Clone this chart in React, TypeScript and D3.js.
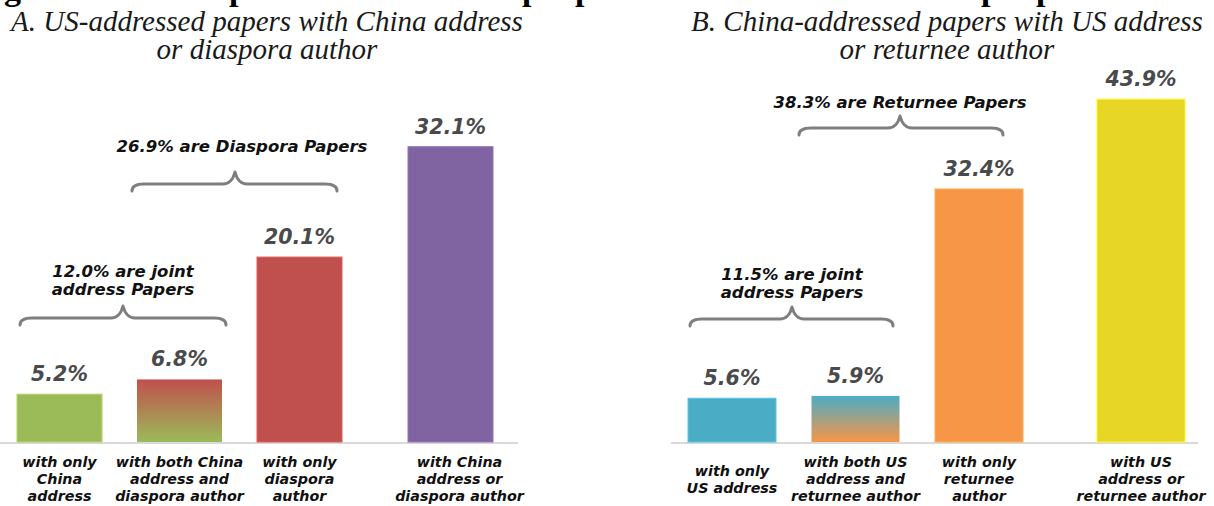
import React from "react";
import * as d3 from "d3";

// ---------- data ----------
const categoriesA = [
  ["with only", "China", "address"],
  ["with both China", "address and", "diaspora author"],
  ["with only", "diaspora", "author"],
  ["with China", "address or", "diaspora author"],
];
const valuesA = [5.2, 6.8, 20.1, 32.1];
const titleA = ["A. US-addressed papers with China address", "or diaspora author"];
const notesA = [
  { lines: ["12.0% are joint", "address Papers"], from: 0, to: 1 },
  { lines: ["26.9% are Diaspora Papers"], from: 1, to: 2 },
];

const categoriesB = [
  ["with only", "US address"],
  ["with both US", "address and", "returnee author"],
  ["with only", "returnee", "author"],
  ["with US", "address or", "returnee author"],
];
const valuesB = [5.6, 5.9, 32.4, 43.9];
const titleB = ["B. China-addressed papers with US address", "or returnee author"];
const notesB = [
  { lines: ["11.5% are joint", "address Papers"], from: 0, to: 1 },
  { lines: ["38.3% are Returnee Papers"], from: 1, to: 2 },
];

// ---------- layout / style ----------
const W = 1214;
const H = 506;
const baseline = 442;
const sans = "'DejaVu Sans', Verdana, sans-serif";
const serif = "'Liberation Serif', 'Times New Roman', serif";

const panels = [
  {
    id: "A",
    cats: categoriesA,
    vals: valuesA,
    title: titleA,
    notes: notesA,
    titleX: 267,
    range: [17, 462],
    step: 120,
    barW: 85,
    lastShift: 31,
    lastLabelDx: 9,
    yTop: 35,
    yTopPx: 442 - 35 * 9.2,
    axis: [0, 518],
    colors: ["#9BBB59", "gradA", "#C0504D", "#8064A2"],
    grad: ["#C0504D", "#9BBB59"],
    noteLayout: [
      { braceY: 318, x0: 20, x1: 226, tipX: 123, textX: 123, textY: 277 },
      { braceY: 184, x0: 132, x1: 337, tipX: 235, textX: 242, textY: 152 },
    ],
  },
  {
    id: "B",
    cats: categoriesB,
    vals: valuesB,
    title: titleB,
    notes: notesB,
    titleX: 947,
    range: [688, 1146.5],
    step: 123.5,
    barW: 88,
    lastShift: 38.5,
    lastLabelDx: 0,
    yTop: 50,
    yTopPx: 442 - 50 * 7.81,
    axis: [671, 1198],
    colors: ["#4BACC6", "gradB", "#F79646", "#E7D626"],
    grad: ["#4BACC6", "#F79646"],
    noteLayout: [
      { braceY: 319, x0: 690, x1: 893, tipX: 792, textX: 792, textY: 280 },
      { braceY: 128, x0: 799, x1: 1003, tipX: 900, textX: 900, textY: 108 },
    ],
  },
];

function bracePath(x0: number, x1: number, y: number, tip: number) {
  const p = d3.path();
  p.moveTo(x0, y + 7);
  p.quadraticCurveTo(x0, y, x0 + 12, y);
  p.lineTo(tip - 12, y);
  p.quadraticCurveTo(tip - 3, y, tip, y - 12);
  p.quadraticCurveTo(tip + 3, y, tip + 12, y);
  p.lineTo(x1 - 12, y);
  p.quadraticCurveTo(x1, y, x1, y + 7);
  return p.toString();
}

function Panel({ cfg }: { cfg: (typeof panels)[number] }) {
  const keys = cfg.cats.map((c) => c.join(" "));
  const x = d3
    .scaleBand<string>()
    .domain(keys)
    .range(cfg.range as [number, number])
    .paddingInner(1 - cfg.barW / cfg.step)
    .paddingOuter(0);
  const y = d3.scaleLinear().domain([0, cfg.yTop]).range([baseline, cfg.yTopPx]);
  const barX = (i: number) => (x(keys[i]) as number) + (i === keys.length - 1 ? cfg.lastShift : 0);
  const bw = x.bandwidth();
  const lh = 17;

  return (
    <g>
      <defs>
        <linearGradient id={cfg.colors[1]} x1="0" y1="0" x2="0" y2="1">
          <stop offset="0" stopColor={cfg.grad[0]} />
          <stop offset="1" stopColor={cfg.grad[1]} />
        </linearGradient>
      </defs>
      {cfg.title.map((t, i) => (
        <text
          key={i}
          x={cfg.titleX}
          y={31 + i * 28}
          textAnchor="middle"
          fontFamily={serif}
          fontStyle="italic"
          fontSize={29}
          fill="#1a1a1a"
        >
          {t}
        </text>
      ))}
      <line x1={cfg.axis[0]} x2={cfg.axis[1]} y1={baseline + 1} y2={baseline + 1} stroke="#d9d9d9" strokeWidth={2} />
      {cfg.vals.map((v, i) => {
        const c = cfg.colors[i];
        const fill = c.startsWith("#") ? c : `url(#${c})`;
        const stroke = c.startsWith("#") ? (d3.color(c) as d3.RGBColor).brighter(0.4).formatHex() : "none";
        return (
          <g key={i}>
            <rect
              x={barX(i)}
              y={y(v)}
              width={bw}
              height={baseline - y(v)}
              fill={fill}
              stroke={stroke}
              strokeWidth={1}
            />
            <text
              x={barX(i) + bw / 2}
              y={y(v) - 13}
              textAnchor="middle"
              fontFamily={sans}
              fontWeight="bold"
              fontStyle="italic"
              fontSize={20.5}
              fill="#4a4a4a"
            >
              {d3.format(".1f")(v) + "%"}
            </text>
          </g>
        );
      })}
      {cfg.cats.map((lines, i) => {
        const off = ((3 - lines.length) * lh) / 2;
        const cx = barX(i) + bw / 2 + (i === cfg.cats.length - 1 ? cfg.lastLabelDx : 0);
        return (
          <text
            key={i}
            textAnchor="middle"
            fontFamily={sans}
            fontWeight="bold"
            fontStyle="italic"
            fontSize={14.3}
            fill="#111"
          >
            {lines.map((l, j) => (
              <tspan key={j} x={cx} y={467 + off + j * lh}>
                {l}
              </tspan>
            ))}
          </text>
        );
      })}
      {cfg.notes.map((n, i) => {
        const L = cfg.noteLayout[i];
        return (
          <g key={i}>
            <path
              d={bracePath(L.x0, L.x1, L.braceY, L.tipX)}
              fill="none"
              stroke="#7f7f7f"
              strokeWidth={3}
              strokeLinecap="round"
              strokeLinejoin="round"
            />
            <text
              textAnchor="middle"
              fontFamily={sans}
              fontWeight="bold"
              fontStyle="italic"
              fontSize={16.5}
              fill="#111"
            >
              {n.lines.map((l, j) => (
                <tspan key={j} x={L.textX} y={L.textY + j * 18}>
                  {l}
                </tspan>
              ))}
            </text>
          </g>
        );
      })}
    </g>
  );
}

// clipped descenders of the figure caption line above the crop
const topGlyphs = [
  { ch: "g", x: 4 },
  { ch: "p", x: 229 },
  { ch: "p", x: 522 },
  { ch: "p", x: 575 },
  { ch: "p", x: 981 },
  { ch: "p", x: 1036 },
];

export default function App() {
  return (
    <svg
      width={W}
      height={H}
      viewBox={`0 0 ${W} ${H}`}
      style={{ position: "absolute", left: 0, top: 0, background: "#fff" }}
    >
      <rect width={W} height={H} fill="#fff" />
      {topGlyphs.map((g, i) => (
        <text key={i} x={g.x} y={0} fontFamily={serif} fontWeight="bold" fontSize={34} fill="#000">
          {g.ch}
        </text>
      ))}
      {panels.map((p) => (
        <Panel key={p.id} cfg={p} />
      ))}
    </svg>
  );
}
